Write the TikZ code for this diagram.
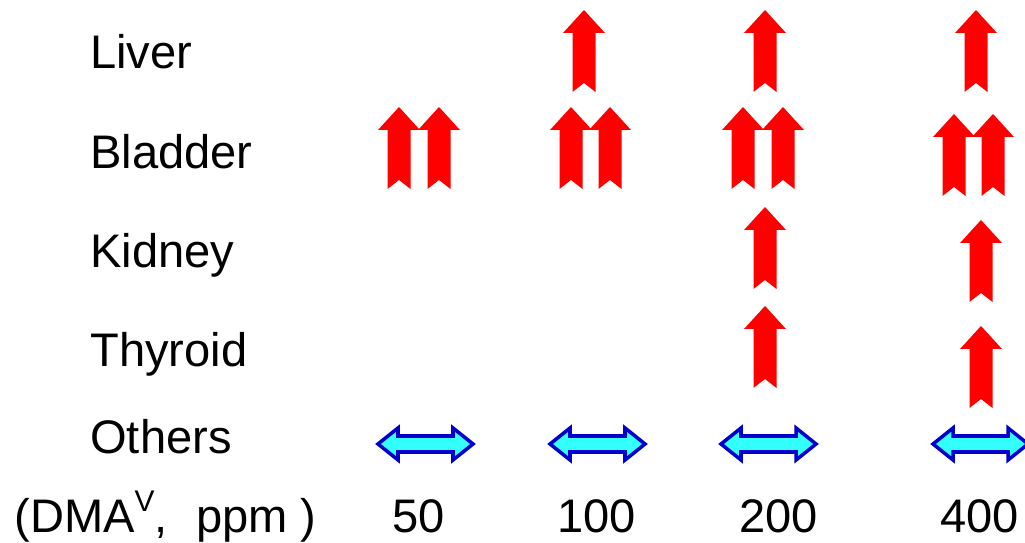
\documentclass[tikz,border=0pt]{standalone}
\usepackage{fontspec}
\setmainfont{Liberation Sans}
\usepackage{xcolor}
\usepackage{tikz}
\usetikzlibrary{positioning}
\definecolor{riseRed}{RGB}{255,0,0}
\definecolor{flatCyan}{RGB}{51,255,255}
\definecolor{flatBlue}{RGB}{0,0,204}

\begin{document}
\begin{tikzpicture}[
    x=0.02cm, y=-0.02cm,
    organ/.style={anchor=base west, inner sep=0pt, font=\fontsize{26.8}{30}\selectfont},
    dose/.style={anchor=base west, inner sep=0pt, font=\fontsize{26.8}{30}\selectfont},
    uparr/.pic={\fill[riseRed] (0,0) -- (21,23) -- (11.5,23) -- (11.5,82) -- (0,73) -- (-11.5,82) -- (-11.5,23) -- (-21,23) -- cycle;},
    bothway/.pic={\draw[flatBlue, fill=flatCyan, line width=2pt, line join=miter] (0,0) -- (20,-16) -- (20,-8) -- (75,-8) -- (75,-16) -- (95,0) -- (75,16) -- (75,8) -- (20,8) -- (20,16) -- cycle;},
]
\useasboundingbox (0,0) rectangle (1025,543);

% === Organ labels ===
\node[organ] (liver) at (90,69) {Liver};
\node[organ] (bladder) at (90,169) {Bladder};
\node[organ] (kidney) at (90,268) {Kidney};
\node[organ] (thyroid) at (90,367) {Thyroid};
\node[organ] (others) at (90,454) {Others};

% === Dose row ===
\node[dose] (unit) at (14,533) {(DMA\raisebox{0.46em}{\fontsize{17}{18}\selectfont V},\ \kern0.05em\ ppm )};
\node[dose] (d50) at (392,533) {50};
\node[dose] (d100) at (557,533) {100};
\node[dose] (d200) at (739,533) {200};
\node[dose] (d400) at (940,533) {400};

% === Liver ===
\pic (liver100) at (584,10) {uparr};
\pic (liver200) at (765,10) {uparr};
\pic (liver400) at (976,10) {uparr};

% === Bladder (double) ===
\pic (bl50a) at (399,107) {uparr};
\pic (bl50b) at (439,107) {uparr};
\pic (bl100a) at (571,107) {uparr};
\pic (bl100b) at (610,107) {uparr};
\pic (bl200a) at (743,107) {uparr};
\pic (bl200b) at (783,107) {uparr};
\pic (bl400a) at (954,114) {uparr};
\pic (bl400b) at (993,114) {uparr};

% === Kidney ===
\pic (kid200) at (765,207) {uparr};
\pic (kid400) at (981,220) {uparr};

% === Thyroid ===
\pic (thy200) at (765,306) {uparr};
\pic (thy400) at (981,326) {uparr};

% === Others: no change ===
\pic (oth50) at (378,444) {bothway};
\pic (oth100) at (550,444) {bothway};
\pic (oth200) at (721,444) {bothway};
\pic (oth400) at (933,444) {bothway};

\end{tikzpicture}
\end{document}
